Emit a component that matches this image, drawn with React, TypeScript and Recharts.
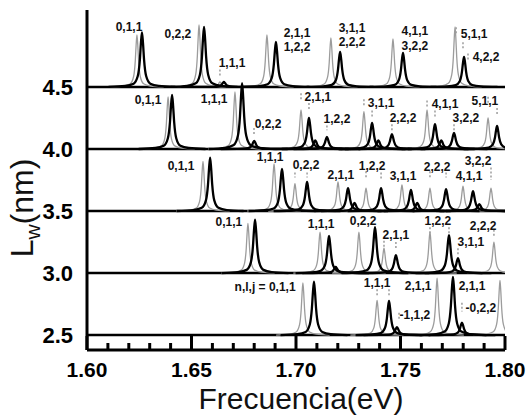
import { LineChart, Line, XAxis, YAxis, ReferenceLine, ReferenceDot } from "recharts";

const FONT = "'Liberation Sans', Arial, sans-serif";
const GRAY = "#9c9c9c";
const BLACK = "#000";

// well widths (nm), one spectrum per row
const ROW_BASE = [4.5, 4.0, 3.5, 3.0, 2.5];

// peak centres (eV) and heights (nm above the row baseline), gray spectra
const GRAY_EV = [
  [1.6239, 1.6536, 1.6636, 1.6861, 1.7167, 1.7464, 1.7761],
  [1.6388, 1.6708, 1.7024, 1.7325, 1.7627, 1.7919],
  [1.6555, 1.6895, 1.6995, 1.7201, 1.7335, 1.7507, 1.7641, 1.7799, 1.7933],
  [1.677, 1.7115, 1.7301, 1.7421, 1.7641, 1.7947],
  [1.7033, 1.7388, 1.7675, 1.7976],
];
const GRAY_H = [
  [0.42, 0.5, 0.04, 0.42, 0.395, 0.387, 0.484],
  [0.42, 0.46, 0.315, 0.3, 0.315, 0.25],
  [0.4, 0.38, 0.22, 0.234, 0.185, 0.21, 0.185, 0.2, 0.185],
  [0.4, 0.33, 0.33, 0.2, 0.33, 0.25],
  [0.42, 0.28, 0.46, 0.44],
];

// black spectra
const BLACK_EV = [
  [1.6263, 1.656, 1.6655, 1.6904, 1.7211, 1.7512, 1.7804],
  [1.6407, 1.6742, 1.68, 1.7062, 1.7092, 1.7148, 1.7364, 1.7394, 1.7459, 1.7665, 1.7695, 1.7756, 1.7962],
  [1.6589, 1.6933, 1.7053, 1.7249, 1.728, 1.7407, 1.755, 1.758, 1.7718, 1.7847, 1.7877],
  [1.6804, 1.7158, 1.719, 1.7378, 1.7478, 1.7732, 1.7775],
  [1.7086, 1.7445, 1.7483, 1.7751, 1.7794],
];
const BLACK_H = [
  [0.44, 0.484, 0.04, 0.363, 0.282, 0.274, 0.242],
  [0.435, 0.53, 0.065, 0.25, 0.07, 0.097, 0.21, 0.07, 0.12, 0.2, 0.07, 0.13, 0.185],
  [0.43, 0.34, 0.234, 0.185, 0.065, 0.185, 0.17, 0.065, 0.177, 0.16, 0.056],
  [0.43, 0.3, 0.05, 0.37, 0.145, 0.306, 0.12],
  [0.43, 0.275, 0.065, 0.47, 0.1],
];

// line shape of a single resonance
const SHAPE_DX = [-0.016, -0.008, -0.004, -0.002, -0.001, -0.0005, 0, 0.0005, 0.001, 0.002, 0.004, 0.008, 0.016];
const SHAPE_LEVEL = [0, 0.018, 0.06, 0.2, 0.5, 0.8, 1, 0.8, 0.5, 0.2, 0.06, 0.018, 0];

// n,l,j labels: text, eV, nm
const LABELS: [string, number, number][] = [
  ["0,1,1", 1.6201, 4.984],
  ["0,2,2", 1.6435, 4.927],
  ["1,1,1", 1.6694, 4.694],
  ["2,1,1", 1.7005, 4.94],
  ["1,2,2", 1.7005, 4.823],
  ["3,1,1", 1.7268, 4.976],
  ["2,2,2", 1.7268, 4.863],
  ["4,1,1", 1.7569, 4.95],
  ["3,2,2", 1.7569, 4.831],
  ["5,1,1", 1.7852, 4.927],
  ["4,2,2", 1.7909, 4.742],
  ["0,1,1", 1.6292, 4.395],
  ["1,1,1", 1.6608, 4.403],
  ["0,2,2", 1.6866, 4.202],
  ["2,1,1", 1.7105, 4.419],
  ["1,2,2", 1.7196, 4.242],
  ["3,1,1", 1.7407, 4.371],
  ["2,2,2", 1.7512, 4.25],
  ["4,1,1", 1.7713, 4.363],
  ["3,2,2", 1.7813, 4.25],
  ["5,1,1", 1.7904, 4.387],
  ["0,1,1", 1.645, 3.863],
  ["1,1,1", 1.6876, 3.935],
  ["0,2,2", 1.7048, 3.871],
  ["2,1,1", 1.7215, 3.79],
  ["1,2,2", 1.7364, 3.863],
  ["3,1,1", 1.7512, 3.782],
  ["2,2,2", 1.7675, 3.855],
  ["4,1,1", 1.7828, 3.782],
  ["3,2,2", 1.7871, 3.903],
  ["0,1,1", 1.6679, 3.411],
  ["1,1,1", 1.712, 3.395],
  ["0,2,2", 1.7321, 3.419],
  ["2,1,1", 1.7478, 3.306],
  ["1,2,2", 1.7679, 3.419],
  ["3,1,1", 1.7837, 3.25],
  ["2,2,2", 1.7895, 3.379],
  ["n,l,j = 0,1,1", 1.6852, 2.887],
  ["1,1,1", 1.7388, 2.919],
  ["2,1,1", 1.7584, 2.895],
  ["-1,1,2", 1.7569, 2.661],
  ["2,1,1", 1.7842, 2.895],
  ["-0,2,2", 1.7885, 2.718],
];

// dashed pointers under the labels: eV, top nm, bottom nm
const MARKERS: [number, number, number][] = [
  [1.6636, 4.64, 4.59],
  [1.7766, 4.98, 4.93],
  [1.7799, 4.86, 4.81],
  [1.7823, 4.77, 4.72],
  [1.6799, 4.17, 4.12],
  [1.7024, 4.45, 4.4],
  [1.7062, 4.37, 4.32],
  [1.7148, 4.19, 4.15],
  [1.7325, 4.4, 4.34],
  [1.7364, 4.31, 4.26],
  [1.7459, 4.2, 4.15],
  [1.7627, 4.39, 4.33],
  [1.7665, 4.31, 4.26],
  [1.7756, 4.2, 4.15],
  [1.7919, 4.42, 4.37],
  [1.7962, 4.33, 4.28],
  [1.6995, 3.81, 3.77],
  [1.7053, 3.81, 3.77],
  [1.7335, 3.82, 3.77],
  [1.7407, 3.81, 3.76],
  [1.7641, 3.82, 3.77],
  [1.7718, 3.81, 3.77],
  [1.7933, 3.85, 3.75],
  [1.7421, 3.26, 3.21],
  [1.7478, 3.25, 3.2],
  [1.7641, 3.37, 3.31],
  [1.7732, 3.37, 3.31],
  [1.7775, 3.2, 3.15],
  [1.7947, 3.35, 3.29],
  [1.7388, 2.87, 2.82],
  [1.7445, 2.87, 2.82],
  [1.7493, 2.68, 2.62],
  [1.7794, 2.76, 2.69],
];

const X_TICKS = [
  1.6, 1.61, 1.62, 1.63, 1.64, 1.65, 1.66, 1.67, 1.68, 1.69, 1.7,
  1.71, 1.72, 1.73, 1.74, 1.75, 1.76, 1.77, 1.78, 1.79, 1.8,
];
const Y_TICKS = [2.5, 3.0, 3.5, 4.0, 4.5];

const X_DOMAIN = [1.6, 1.8];
const Y_DOMAIN = [2.38, 5.12];

function peakPoints(center: number, height: number, base: number, w: number) {
  return SHAPE_DX.map((dx, i) => ({ x: center + dx * w, y: base + height * SHAPE_LEVEL[i] }));
}

function isMajor(v: number) {
  return Math.round(v * 100) % 5 === 0;
}

function BottomTick(props: any) {
  const { x, y, payload } = props;
  const v = payload.value;
  const major = isMajor(v);
  return (
    <g>
      <line x1={x} x2={x} y1={y} y2={y - (major ? 14 : 7)} stroke={BLACK} strokeWidth={3} />
      {major ? (
        <text x={x} y={y + 27} textAnchor="middle" fontSize={21} fontWeight="bold" fontFamily={FONT} fill={BLACK}>
          {v.toFixed(2)}
        </text>
      ) : null}
    </g>
  );
}

function TopTick(props: any) {
  const { x, y, payload } = props;
  const major = isMajor(payload.value);
  return <line x1={x} x2={x} y1={y} y2={y + (major ? 14 : 7)} stroke={BLACK} strokeWidth={3} />;
}

function XTitle(props: any) {
  const vb = props.viewBox;
  return (
    <text x={vb.x + vb.width / 2 + 5} y={vb.y + 59} textAnchor="middle" fontSize={30} fontFamily={FONT} fill="#111">
      Frecuencia(eV)
    </text>
  );
}

function YTitle() {
  const cx = 33;
  const cy = 208;
  return (
    <text
      x={cx}
      y={cy}
      transform={`rotate(-90 ${cx} ${cy})`}
      textAnchor="middle"
      fontSize={32}
      fontFamily={FONT}
      fill="#111"
    >
      L<tspan fontSize={21} dy={7}>w</tspan>
      <tspan dy={-7}>(nm)</tspan>
    </text>
  );
}

function spectrumLines(evs: number[][], hs: number[][], color: string, width: number, w: number, tag: string) {
  return ROW_BASE.flatMap((base, r) =>
    evs[r].map((c, i) => (
      <Line
        key={`${tag}-${r}-${i}`}
        data={peakPoints(c, hs[r][i], base, w)}
        dataKey="y"
        type="monotone"
        stroke={color}
        strokeWidth={width}
        dot={false}
        activeDot={false}
        legendType="none"
        isAnimationActive={false}
      />
    ))
  );
}

export default function App() {
  return (
    <div style={{ position: "absolute", left: 0, top: 0, background: "#fff" }}>
      <LineChart width={528} height={416} margin={{ top: 10, right: 23, bottom: 36, left: 0 }}>
        <XAxis
          dataKey="x"
          type="number"
          domain={X_DOMAIN}
          allowDataOverflow
          ticks={X_TICKS}
          interval={0}
          tick={(p: any) => <BottomTick {...p} />}
          tickLine={false}
          tickSize={0}
          tickMargin={0}
          height={30}
          axisLine={{ stroke: BLACK, strokeWidth: 3 }}
          label={{ content: (p: any) => <XTitle {...p} /> }}
        />
        <XAxis
          xAxisId="top"
          orientation="top"
          dataKey="x"
          type="number"
          domain={X_DOMAIN}
          allowDataOverflow
          ticks={X_TICKS}
          interval={0}
          tick={(p: any) => <TopTick {...p} />}
          tickLine={false}
          tickSize={0}
          tickMargin={0}
          height={0}
          axisLine={{ stroke: BLACK, strokeWidth: 3 }}
        />
        <YAxis
          type="number"
          domain={Y_DOMAIN}
          allowDataOverflow
          ticks={Y_TICKS}
          interval={0}
          tickFormatter={(v: number) => v.toFixed(1)}
          width={87}
          tickLine={false}
          tickSize={0}
          tickMargin={14}
          tick={{ fill: BLACK, fontSize: 22, fontWeight: "bold", fontFamily: FONT }}
          axisLine={{ stroke: BLACK, strokeWidth: 3 }}
          label={{ content: () => <YTitle /> }}
        />
        <YAxis
          yAxisId="right"
          orientation="right"
          type="number"
          domain={Y_DOMAIN}
          allowDataOverflow
          width={0}
          tick={false}
          tickLine={false}
          axisLine={{ stroke: BLACK, strokeWidth: 3 }}
        />
        {ROW_BASE.map((b) => (
          <ReferenceLine key={`base-${b}`} y={b} stroke={BLACK} strokeWidth={2.5} />
        ))}
        {spectrumLines(GRAY_EV, GRAY_H, GRAY, 1.3, 0.8, "g")}
        {spectrumLines(BLACK_EV, BLACK_H, BLACK, 2.3, 1, "b")}
        {MARKERS.map(([x, y1, y2], i) => (
          <ReferenceLine
            key={`m-${i}`}
            segment={[
              { x, y: y1 },
              { x, y: y2 },
            ]}
            stroke={GRAY}
            strokeWidth={1.5}
            strokeDasharray="2 2"
          />
        ))}
        {LABELS.map(([t, x, y], i) => (
          <ReferenceDot
            key={`l-${i}`}
            x={x}
            y={y}
            r={0}
            fill="none"
            stroke="none"
            label={{ value: t, position: "center", fontSize: 12, fontWeight: "bold", fill: "#111", fontFamily: FONT }}
          />
        ))}
      </LineChart>
    </div>
  );
}
